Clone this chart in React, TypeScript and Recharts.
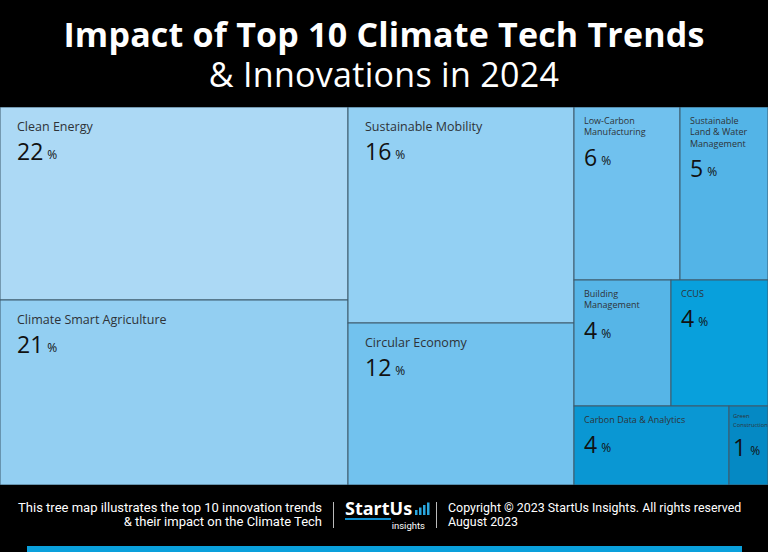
import { Treemap } from "recharts";

/* ─── Dados ─── */

const TRENDS = [
  "Clean Energy",
  "Climate Smart Agriculture",
  "Sustainable Mobility",
  "Circular Economy",
  "Low-Carbon Manufacturing",
  "Sustainable Land & Water Management",
  "Building Management",
  "CCUS",
  "Carbon Data & Analytics",
  "Green Construction",
];

const IMPACT = [22, 21, 16, 12, 6, 5, 4, 4, 4, 1];

const CELL_COLORS = [
  "#acd9f5",
  "#93cff2",
  "#93d0f3",
  "#72c2ee",
  "#70c1ee",
  "#53b4e7",
  "#56b5e7",
  "#08a0dc",
  "#0a97d3",
  "#0589c4",
];

const TITLE = "Impact of Top 10 Climate Tech Trends";
const SUBTITLE = "& Innovations in 2024";
const FOOT_LEFT = ["This tree map illustrates the top 10 innovation trends", "& their impact on the Climate Tech"];
const FOOT_RIGHT = ["Copyright © 2023 StartUs Insights. All rights reserved", "August 2023"];

const data = TRENDS.map((name, i) => ({ name, value: IMPACT[i] }));

const CELL_FONT = "'Open Sans', 'Noto Sans', sans-serif";
const FOOT_FONT = "'Liberation Sans Narrow', 'Roboto', sans-serif";

/* quebra simples por largura aproximada */
function wrapLabel(text: string, maxWidth: number, fontSize: number) {
  const words = text.split(" ");
  const lines: string[] = [];
  let cur = "";
  for (const w of words) {
    const next = cur ? cur + " " + w : w;
    if (cur && next.length * fontSize * 0.5 > maxWidth) {
      lines.push(cur);
      cur = w;
    } else cur = next;
  }
  if (cur) lines.push(cur);
  return lines;
}

/* ─── Célula ─── */

function TrendCell(props: any) {
  const { x, y, width, height, depth, name, value, index } = props;
  if (depth !== 1) return null;

  const big = width >= 200;
  const tiny = width < 60;
  const labelSize = big ? 12.5 : tiny ? 5.8 : 9;
  const pad = big ? 17 : tiny ? 4 : 10;
  const top = big ? 19 : tiny ? 10 : 13;
  const lineH = big ? 14 : tiny ? 8.5 : 11.5;

  const lines = big ? [name] : wrapLabel(name, width - pad * 2, labelSize);
  const lastY = y + top + (lines.length - 1) * lineH;

  return (
    <g>
      <rect
        x={x}
        y={y}
        width={width}
        height={height}
        fill={CELL_COLORS[index % CELL_COLORS.length]}
        stroke="#3d5a6c"
        strokeWidth={1}
      />
      {lines.map((l: string, i: number) => (
        <text
          key={i}
          x={x + pad}
          y={y + top + i * lineH}
          dominantBaseline="central"
          fontFamily={CELL_FONT}
          fontSize={labelSize}
          fill="#2e3338"
        >
          {l}
        </text>
      ))}
      <text
        x={x + pad}
        y={lastY + (tiny ? 22 : 25)}
        dominantBaseline="central"
        fontFamily={CELL_FONT}
        fill="#111"
      >
        <tspan fontSize={23}>{value}</tspan>
        <tspan fontSize={12} dx={4} dy={3}>
          %
        </tspan>
      </text>
    </g>
  );
}

/* ─── Logo ─── */

function Logo() {
  return (
    <svg width={90} height={38} style={{ display: "block" }}>
      <text x={0} y={20} fontFamily="'Open Sans', sans-serif" fontWeight={700} fontSize={18} fill="#fff">
        StartUs
      </text>
      {[0, 1, 2, 3].map((i) => (
        <rect key={i} x={70 + i * 4} y={20 - (5 + i * 2.5)} width={2.5} height={5 + i * 2.5} fill="#2aa7df" />
      ))}
      <rect x={0} y={23} width={46} height={2} fill="#0f8fd0" />
      <text x={80} y={34} textAnchor="end" fontFamily={FOOT_FONT} fontSize={9.5} fill="#fff">
        insights
      </text>
    </svg>
  );
}

/* ─── App ─── */

export default function App() {
  return (
    <div
      style={{
        position: "absolute",
        left: 0,
        top: 0,
        width: 768,
        height: 552,
        background: "#000",
        overflow: "hidden",
      }}
    >
      {/* Título */}
      <div
        style={{
          position: "absolute",
          top: 15,
          width: 768,
          textAlign: "center",
          color: "#fff",
          fontFamily: "'Open Sans', sans-serif",
        }}
      >
        <div style={{ fontSize: 34, fontWeight: 700, letterSpacing: 0.2, lineHeight: "38px" }}>{TITLE}</div>
        <div style={{ fontSize: 34, fontWeight: 400, lineHeight: "42px", letterSpacing: 0.3 }}>{SUBTITLE}</div>
      </div>

      {/* Treemap */}
      <div style={{ position: "absolute", top: 107, left: 0 }}>
        <Treemap
          width={768}
          height={378}
          data={data}
          dataKey="value"
          nameKey="name"
          isAnimationActive={false}
          content={<TrendCell />}
        />
      </div>

      {/* Rodapé */}
      <div
        style={{
          position: "absolute",
          top: 500,
          left: 0,
          width: 768,
          height: 30,
          color: "#fff",
          fontFamily: FOOT_FONT,
          fontSize: 13,
          lineHeight: "14px",
        }}
      >
        <div style={{ position: "absolute", right: 768 - 322, top: 1, textAlign: "right", whiteSpace: "nowrap" }}>
          {FOOT_LEFT.map((t) => (
            <div key={t}>{t}</div>
          ))}
        </div>
        <div style={{ position: "absolute", left: 333, top: 2, width: 1, height: 26, background: "#bbb" }} />
        <div style={{ position: "absolute", left: 345, top: -5 }}>
          <Logo />
        </div>
        <div style={{ position: "absolute", left: 436, top: 2, width: 1, height: 26, background: "#bbb" }} />
        <div style={{ position: "absolute", left: 448, top: 1, whiteSpace: "nowrap", fontSize: 12.4 }}>
          {FOOT_RIGHT.map((t) => (
            <div key={t}>{t}</div>
          ))}
        </div>
      </div>
      <div style={{ position: "absolute", left: 27, top: 546, width: 715, height: 6, background: "#0aa0dc" }} />
    </div>
  );
}
